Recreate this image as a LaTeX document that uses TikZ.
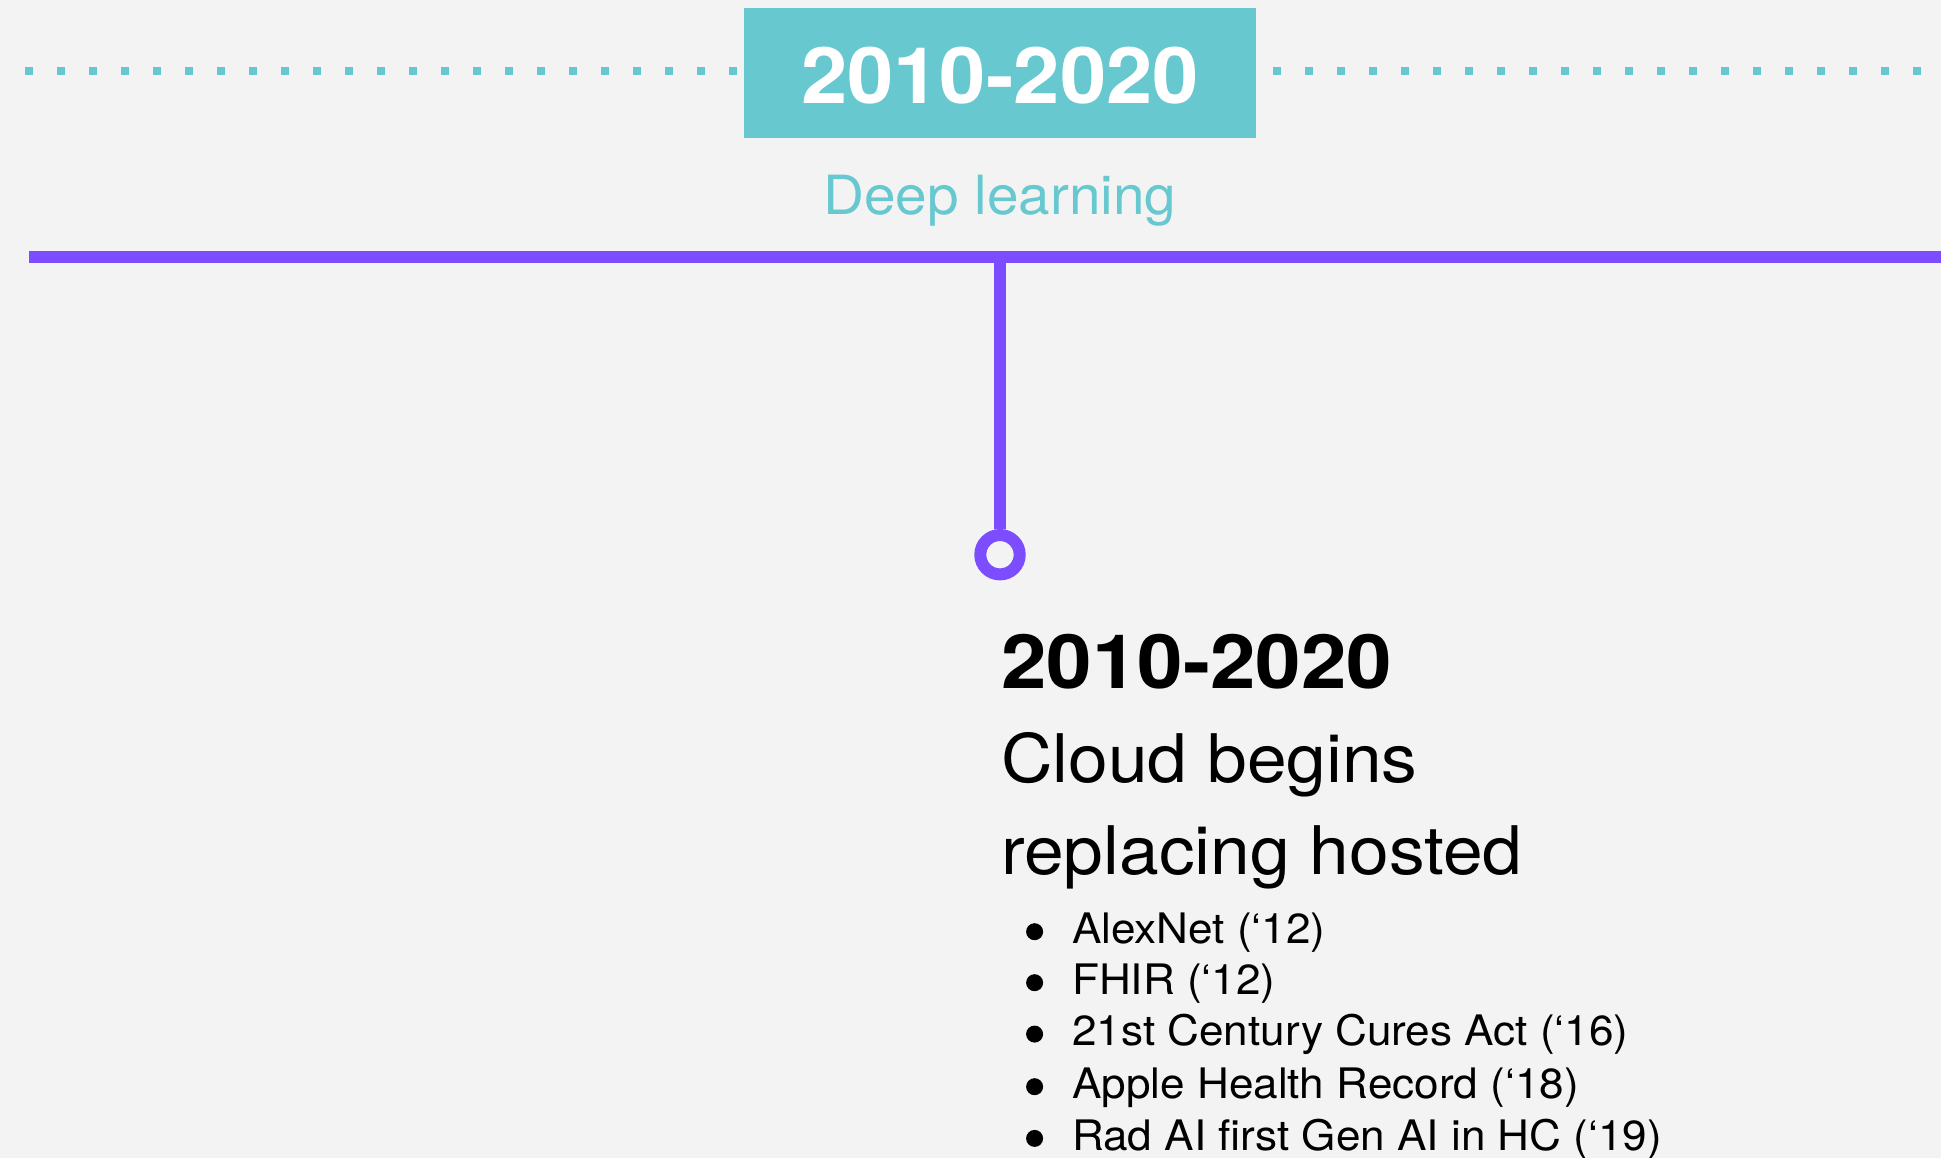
\documentclass[tikz,border=0pt]{standalone}
\usepackage{fontspec}
\setmainfont{TeX Gyre Heros}
\newfontfamily\regA[FakeStretch=1.05]{TeX Gyre Heros}
\newfontfamily\regB[FakeStretch=1.065]{TeX Gyre Heros}
\newfontfamily\boldA[FakeStretch=1.067]{TeX Gyre Heros}
\newfontfamily\boldB[FakeStretch=1.09]{TeX Gyre Heros}
\definecolor{bgc}{HTML}{F3F3F3}
\definecolor{tealc}{HTML}{67C8CF}
\definecolor{purc}{HTML}{7C4DFF}
\definecolor{inkc}{HTML}{000000}
\tikzset{
  dotsq/.style={fill=tealc, draw=none},
  yearbox/.style={fill=tealc, draw=none, inner sep=0pt, minimum width=512pt, minimum height=130pt},
  boxtext/.style={text=white, inner sep=0pt, anchor=base, font=\boldA\fontsize{78}{78}\selectfont\bfseries},
  eralabel/.style={text=tealc, inner sep=0pt, anchor=base, font=\regA\fontsize{54}{54}\selectfont},
  heading/.style={text=inkc, inner sep=0pt, anchor=base west, font=\boldB\fontsize{75}{75}\selectfont\bfseries},
  subhead/.style={text=inkc, inner sep=0pt, anchor=base west, font=\regB\fontsize{67}{67}\selectfont},
  item/.style={text=inkc, inner sep=0pt, anchor=base west, font=\regA\fontsize{42}{42}\selectfont},
  bulletdot/.style={circle, fill=inkc, inner sep=0pt, minimum size=17pt},
  timeline/.style={draw=purc, line width=12pt},
  ring/.style={circle, draw=purc, line width=12pt, fill=bgc, inner sep=0pt, minimum size=39.4pt}
}
\begin{document}
\begin{tikzpicture}[x=1pt, y=-1pt]
\useasboundingbox[fill=bgc] (0,0) rectangle (1941,1158);
% dotted rule
\foreach \k in {0,...,22} { \fill[dotsq] ({25+32*\k},67) rectangle ++(8,8); }
\foreach \k in {0,...,20} { \fill[dotsq] ({1273+32*\k},67) rectangle ++(8,8); }
% year box
\node[yearbox] (box) at (1000,72.7) {};
\node[boxtext] (boxtxt) at (1000,104) {2010-2020};
\node[eralabel] (era) at (1000,215) {Deep learning};
% timeline
\coordinate (tlstart) at (29,257.5);
\coordinate (tlend) at (1941,257.5);
\coordinate (tlmid) at (1000,257.5);
\draw[timeline] (tlstart) -- (tlend);
\node[ring] (mark) at (1000,554.7) {};
\draw[timeline] (tlmid) -- (mark.north);
% texts
\node[heading] (h) at (1001,688.3) {2010-2020};
\node[subhead] (s1) at (1001,782.7) {Cloud begins};
\node[subhead] (s2) at (1001,874) {replacing hosted};
\foreach \y/\t [count=\i] in {943.3/{AlexNet (‘12)}, 994.3/{FHIR (‘12)}, 1045.7/{21st Century Cures Act (‘16)}, 1098.3/{Apple Health Record (‘18)}, 1150/{Rad AI first Gen AI in HC (‘19)}} {
  \node[bulletdot] (b\i) at (1034.6,{\y-11.6}) {};
  \node[item] (t\i) at (1072,\y) {\t};
}
\end{tikzpicture}
\end{document}
